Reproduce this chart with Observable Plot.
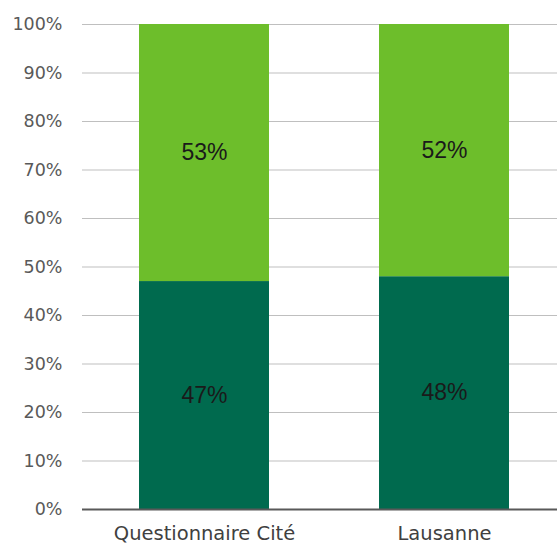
<!DOCTYPE html>
<html>
<head>
<meta charset="utf-8">
<script src="https://cdn.jsdelivr.net/npm/d3@7"></script>
<script src="https://cdn.jsdelivr.net/npm/@observablehq/plot@0.6"></script>
<style>
  html, body { margin: 0; padding: 0; background: #fff; }
</style>
</head>
<body>
<div id="chart"></div>
<script>
const categories = ["Questionnaire Cité", "Lausanne"];
const seriesNames = ["bas", "haut"];
const bottomValues = [47, 48];
const topValues = [53, 52];
const yTicks = [0, 10, 20, 30, 40, 50, 60, 70, 80, 90, 100];
const colors = ["#006a4e", "#6dbe2b"];

const data = [];
categories.forEach((c, i) => {
  data.push({cat: c, series: seriesNames[0], value: bottomValues[i]});
  data.push({cat: c, series: seriesNames[1], value: topValues[i]});
});

const font = "'DejaVu Sans', sans-serif";

const chart = Plot.plot({
  width: 557,
  height: 548,
  marginTop: 24,
  marginBottom: 39,
  marginLeft: 82,
  marginRight: 0,
  style: {fontFamily: font, fontSize: "16px", color: "#404040", background: "#fff"},
  x: {domain: categories, range: [83, 564], paddingInner: 0.46, paddingOuter: 0.23, label: null},
  y: {domain: [0, 100], label: null},
  color: {domain: seriesNames, range: colors},
  marks: [
    Plot.axisX({tickSize: 0, tickPadding: 17, fontSize: 19.5, fill: "#404040", label: null}),
    Plot.axisY({ticks: yTicks, tickFormat: d => d + "%", tickSize: 0, tickPadding: 20, fontSize: 17.5, fill: "#595959", label: null}),
    Plot.ruleY(yTicks.filter(d => d > 0), {stroke: "#bfbfbf", strokeWidth: 1.2}),
    Plot.barY(data, Plot.stackY({x: "cat", y: "value", fill: "series", order: seriesNames})),
    Plot.text(data, Plot.stackY({x: "cat", y: "value", z: "series", order: seriesNames, text: d => d.value + "%", fill: "#1a1a1a", fontSize: 23, fontFamily: "'Liberation Sans', sans-serif"})),
    Plot.ruleY([0], {stroke: "#595959", strokeWidth: 2})
  ]
});
document.getElementById("chart").appendChild(chart);
</script>
</body>
</html>
